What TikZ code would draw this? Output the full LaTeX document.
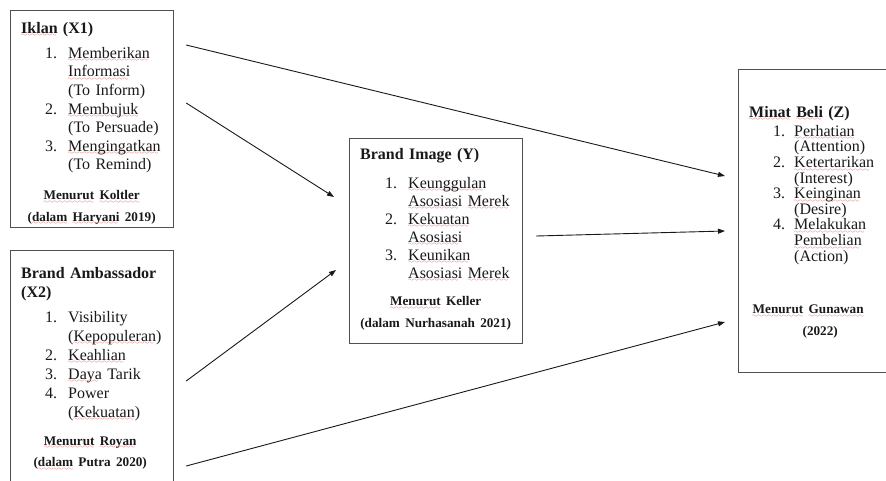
\documentclass[tikz,border=0pt]{standalone}
\usepackage{fontspec}
\setmainfont{Liberation Serif}
\usepackage{enumitem}
\usetikzlibrary{arrows.meta}

\definecolor{squig}{RGB}{214,70,70}
\definecolor{edge}{RGB}{80,80,80}
\definecolor{ink}{RGB}{25,25,25}
\font\sqfont=lasy6
\newbox\sqbox
\newcommand{\sq}[1]{\leavevmode\setbox\sqbox\hbox{#1}\rlap{\color{squig}\lower3.5pt\hbox to\wd\sqbox{\leaders\hbox{\sqfont\char58}\hfill}}\box\sqbox}
\newcommand{\foot}{\fontsize{13.2}{21.5}\selectfont\bfseries}
\newlist{ind}{enumerate}{1}
\setlist[ind]{label=\arabic*.,align=left,labelsep=0pt,topsep=0pt,partopsep=0pt,parsep=0pt,itemsep=0pt}

\begin{document}
\begin{tikzpicture}[x=1pt,y=-1pt,
    box/.style={draw=edge,line width=1.2pt,anchor=north west,inner sep=0pt},
    txt/.style={anchor=north west,inner sep=0pt,text=ink,execute at begin node=\raggedright},
    arr/.style={draw=ink,line width=0.9pt,-{Triangle[length=7pt,width=5pt]}}]
    \useasboundingbox (0,0) rectangle (886,480);
    \clip (0,0) rectangle (886,480);
    \fill[white] (0,0) rectangle (886,480);

    \node[box,minimum width=163pt,minimum height=217pt] (x1) at (10,10) {};
    \node[box,minimum width=163pt,minimum height=240pt] (x2) at (10,250) {};
    \node[box,minimum width=173pt,minimum height=205pt] (y) at (349,138) {};
    \node[box,minimum width=170pt,minimum height=303pt] (z) at (738,69) {};

    \node[txt,text width=141pt,font=\fontsize{16}{18.6}\selectfont] (x1t) at (21,22) {%
        \textbf{\sq{Iklan} (X1)}\par\vspace{6.4pt}
        \begin{ind}[labelindent=24pt,labelwidth=23pt,leftmargin=47pt,rightmargin=-20pt]
            \item \sq{Memberikan}\\\sq{Informasi}\\(To Inform)
            \item \sq{Membujuk}\\(To Persuade)
            \item \sq{Mengingatkan}\\(To Remind)
        \end{ind}
        \vspace{8.3pt}
        {\foot\centering \sq{Menurut} \sq{Koltler}\\(\sq{dalam} \sq{Haryani} 2019)\par}};

    \node[txt,text width=138pt,font=\fontsize{16}{19.5}\selectfont] (x2t) at (21,267) {%
        \textbf{Brand Ambassador\\(X2)}\par\vspace{5.5pt}
        \fontsize{16}{19}\selectfont
        \begin{ind}[labelindent=24pt,labelwidth=23pt,leftmargin=47pt,rightmargin=-20pt]
            \item Visibility\\(\sq{Kepopuleran})
            \item \sq{Keahlian}
            \item \sq{Daya} Tarik
            \item Power\\(\sq{Kekuatan})
        \end{ind}
        \vspace{6.3pt}
        {\foot\centering \sq{Menurut} \sq{Royan}\\(\sq{dalam} Putra 2020)\par}};

    \node[txt,text width=151pt,font=\fontsize{16}{18}\selectfont] (yt) at (360,148) {%
        \textbf{Brand Image (Y)}\par\vspace{11pt}
        \begin{ind}[labelindent=25pt,labelwidth=23pt,leftmargin=48pt,rightmargin=-20pt]
            \item \sq{Keunggulan}\\\sq{Asosiasi}~\sq{Merek}
            \item \sq{Kekuatan}\\\sq{Asosiasi}
            \item \sq{Keunikan}\\\sq{Asosiasi}~\sq{Merek}
        \end{ind}
        \vspace{5.8pt}
        {\foot\centering \sq{Menurut} Keller\\(dalam Nurhasanah 2021)\par}};

    \node[txt,text width=118pt,font=\fontsize{16}{15.6}\selectfont] (zt) at (749,106) {%
        \textbf{\sq{Minat} \sq{Beli} (Z)}\par\vspace{3.4pt}
        \begin{ind}[labelindent=24pt,labelwidth=21pt,leftmargin=45pt,rightmargin=-30pt]
            \item \sq{Perhatian}\\(Attention)
            \item \sq{Ketertarikan}\\(Interest)
            \item \sq{Keinginan}\\(Desire)
            \item \sq{Melakukan}\\\sq{Pembelian}\\(Action)
        \end{ind}
        \vspace{31.3pt}
        {\foot\centering \sq{Menurut} \sq{Gunawan}\\\hspace*{24pt}(2022)\par}};

    \draw[arr] ([shift={(12,35)}]x1.north east) -- ([shift={(-13,107)}]z.north west);
    \draw[arr] ([shift={(12,93)}]x1.north east) -- ([shift={(-15,59)}]y.north west);
    \draw[arr] ([shift={(12,131)}]x2.north east) -- ([shift={(-13,132)}]y.north west);
    \draw[arr] ([shift={(12,216)}]x2.north east) -- ([shift={(-13,253)}]z.north west);
    \draw[arr] ([shift={(13,98)}]y.north east) -- ([shift={(-13,162)}]z.north west);
\end{tikzpicture}
\end{document}
